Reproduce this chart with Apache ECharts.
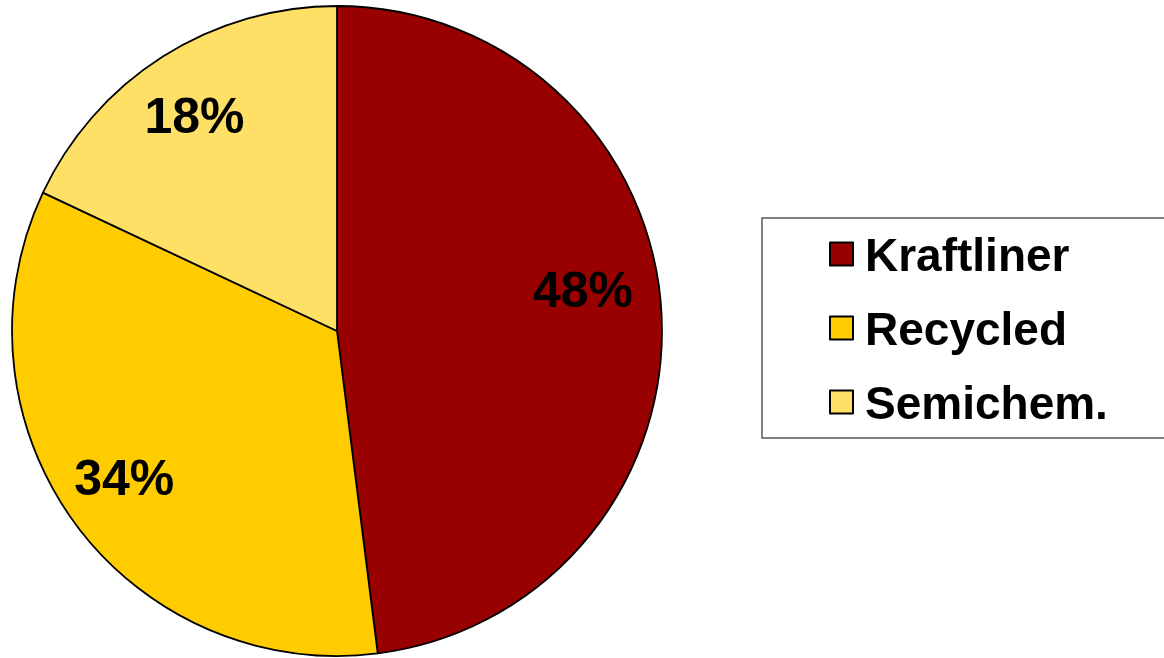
<!DOCTYPE html>
<html>
<head>
<meta charset="utf-8">
<script src="https://cdn.jsdelivr.net/npm/echarts@6/dist/echarts.min.js"></script>
<style>
  html, body { margin: 0; padding: 0; background: #ffffff; }
  #chart { width: 1164px; height: 658px; }
</style>
</head>
<body>
<div id="chart"></div>
<script>
// Share of containerboard production by grade (percent)
const categories = ['Kraftliner', 'Recycled', 'Semichem.'];
const shares = [48, 34, 18];
const colors = ['#990000', '#FFCC00', '#FFE066'];
// Small nudges for the percentage labels, per slice
const labelOffsets = [[-14, -21], [-2, -3], [-3, 8]];

const FONT = '"Liberation Sans", Arial, sans-serif';

const sliceData = categories.map((name, i) => ({
  name: name,
  value: shares[i],
  itemStyle: { color: colors[i] }
}));

// Transparent ring that only carries the percentage labels further out
const labelData = categories.map((name, i) => ({
  name: name,
  value: shares[i],
  label: { offset: labelOffsets[i] }
}));

const chart = echarts.init(document.getElementById('chart'), null, { renderer: 'canvas' });

chart.setOption({
  animation: false,
  backgroundColor: '#ffffff',
  color: colors,
  graphic: [{
    type: 'rect',
    shape: { x: 762, y: 218, width: 430, height: 220 },
    style: { fill: null, stroke: '#5a5a5a', lineWidth: 1.5 },
    z: 0
  }],
  legend: {
    orient: 'vertical',
    left: 829,
    top: 227,
    padding: 0,
    itemWidth: 23,
    itemHeight: 23,
    itemGap: 20,
    icon: 'rect',
    data: categories,
    itemStyle: { borderColor: '#000000', borderWidth: 2 },
    formatter: (name) => '{t|' + name + '}',
    textStyle: {
      fontFamily: FONT,
      fontWeight: 'bold',
      fontSize: 46,
      color: '#000000',
      rich: {
        t: {
          fontFamily: FONT,
          fontWeight: 'bold',
          fontSize: 46,
          lineHeight: 42,
          color: '#000000',
          padding: [8, 0, 0, 7]
        }
      }
    }
  },
  series: [
    {
      type: 'pie',
      center: [337, 331],
      radius: [0, 325],
      startAngle: 90,
      clockwise: true,
      data: sliceData,
      label: { show: false },
      labelLine: { show: false },
      itemStyle: { borderColor: '#000000', borderWidth: 1.8 },
      emphasis: { disabled: true }
    },
    {
      type: 'pie',
      center: [337, 331],
      radius: [190, 325],
      startAngle: 90,
      clockwise: true,
      silent: true,
      legendHoverLink: false,
      data: labelData,
      itemStyle: { color: 'rgba(0,0,0,0)', borderWidth: 0 },
      label: {
        show: true,
        position: 'inside',
        formatter: '{c}%',
        fontFamily: FONT,
        fontWeight: 'bold',
        fontSize: 50,
        color: '#000000'
      },
      labelLine: { show: false },
      emphasis: { disabled: true },
      z: 3
    }
  ]
});
</script>
</body>
</html>
